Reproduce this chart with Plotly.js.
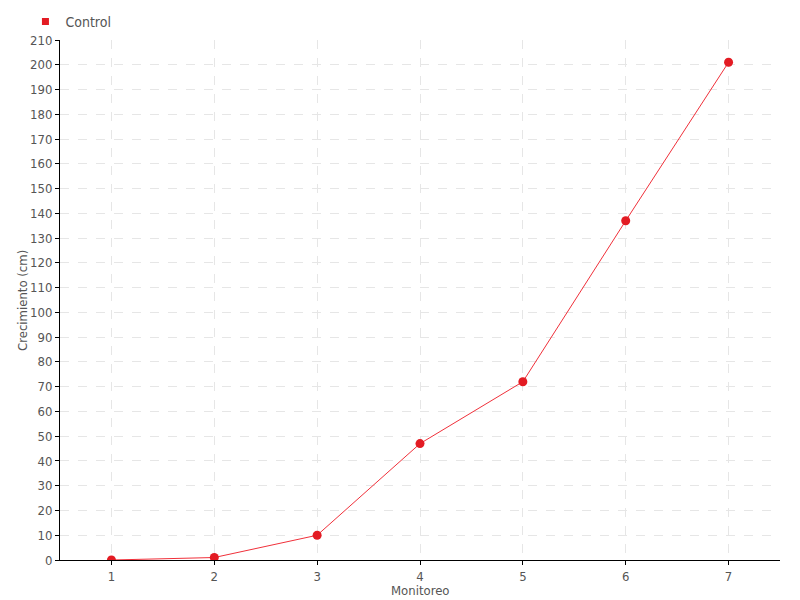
<!DOCTYPE html>
<html>
<head>
<meta charset="utf-8">
<script src="https://cdn.plot.ly/plotly-3.0.1.min.js"></script>
<style>html,body{margin:0;padding:0;background:#fff}#chart{width:800px;height:600px}</style>
</head>
<body>
<div id="chart"></div>
<script>
const monitoreo = ["1", "2", "3", "4", "5", "6", "7"];
const control = [0, 1, 10, 47, 72, 137, 201];
const seriesName = "Control";
const xTitle = "Monitoreo";
const yTitle = "Crecimiento (cm)";

const FONT = "'DejaVu Sans Condensed', 'Liberation Sans Narrow', sans-serif";
const RED = "#e31b23";

const traces = [
  {
    x: monitoreo, y: control, type: "scatter", mode: "lines+markers",
    name: seriesName, showlegend: false,
    line: {color: "#f0303a", width: 1},
    marker: {color: RED, size: 9}
  },
  {
    x: [null], y: [null], type: "scatter", mode: "markers",
    name: seriesName, showlegend: true,
    marker: {color: RED, size: 7, symbol: "square"}
  }
];

const layout = {
  width: 800, height: 600,
  margin: {l: 60, r: 20, t: 40, b: 40, autoexpand: false},
  paper_bgcolor: "#fff", plot_bgcolor: "#fff",
  font: {family: FONT, size: 13, color: "#555"},
  showlegend: true,
  legend: {x: -0.048, y: 1.035, xanchor: "left", yanchor: "middle", orientation: "h",
           font: {family: FONT, size: 14, color: "#555"}, itemwidth: 30, bgcolor: "rgba(0,0,0,0)"},
  xaxis: {
    type: "category", range: [-0.5, 6.5],
    showgrid: true, gridcolor: "#e6e6e6", griddash: "dash", gridwidth: 1,
    showline: true, linecolor: "#000", linewidth: 1,
    ticks: "outside", ticklen: 4, tickcolor: "#000",
    tickfont: {family: FONT, size: 13, color: "#555"},
    zeroline: false, fixedrange: true
  },
  yaxis: {
    range: [0, 210], dtick: 10,
    showgrid: true, gridcolor: "#e6e6e6", griddash: "dash", gridwidth: 1,
    showline: true, linecolor: "#000", linewidth: 1,
    ticks: "outside", ticklen: 4, tickcolor: "#000",
    tickfont: {family: FONT, size: 13, color: "#555"},
    zeroline: false, fixedrange: true
  },
  annotations: [
    {text: xTitle, xref: "paper", yref: "paper", x: 0.5, y: -0.0577,
     xanchor: "center", yanchor: "middle", showarrow: false,
     font: {family: FONT, size: 13, color: "#555"}},
    {text: yTitle, xref: "paper", yref: "paper", x: -0.0528, y: 0.5, textangle: -90,
     xanchor: "center", yanchor: "middle", showarrow: false,
     font: {family: FONT, size: 13, color: "#555"}}
  ]
};

Plotly.newPlot("chart", traces, layout, {displayModeBar: false, staticPlot: true});
</script>
</body>
</html>
